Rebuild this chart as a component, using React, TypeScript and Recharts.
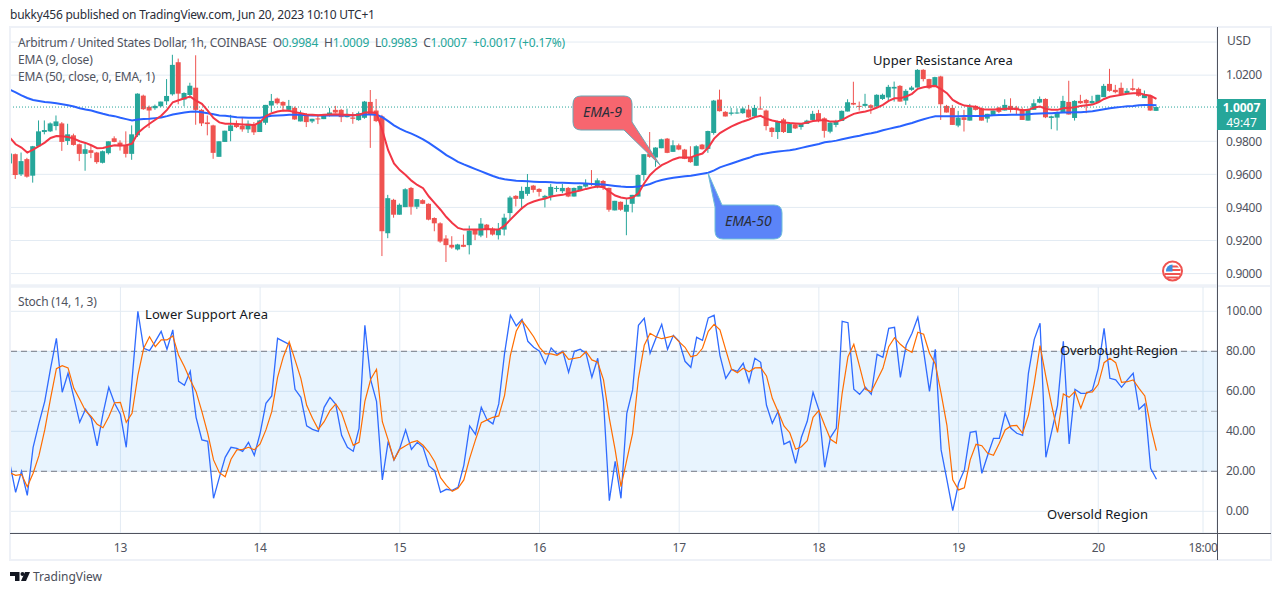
import { Bar, CartesianGrid, ComposedChart, Line, ReferenceArea, ReferenceLine, XAxis, YAxis } from "recharts";

// hourly bars, Jun 12 05:00 to Jun 20 10:00
const opens = [
  .9666, .9722, .9600, .9692, .9592, .9770, .9856, .9860, .9892, .9908,
  .9802, .9836, .9782, .9724, .9746, .9732, .9670, .9728, .9818, .9792,
  .9778, .9724, .9836, 1.0076, 1.0008, 1.0000, 1.0012, 1.0042, 1.0084, 1.0278,
  1.0052, 1.0080, 1.0124, .9990, .9914, .9896, .9706, .9796, .9862, .9906,
  .9894, .9872, .9900, .9856, .9912, 1.0016, 1.0058, 1.0038, .9990, 1.0002,
  .9920, .9964, .9920, .9938, .9934, .9956, .9990, .9990, .9946, .9944,
  .9928, .9942, 1.0038, .9986, .9950, .9244, .9446, .9356, .9402, .9518,
  .9404, .9444, .9422, .9336, .9304, .9212, .9174, .9146, .9174, .9172,
  .9264, .9230, .9296, .9272, .9232, .9266, .9366, .9470, .9452, .9482,
  .9532, .9512, .9458, .9470, .9514, .9498, .9518, .9466, .9500, .9526,
  .9544, .9526, .9560, .9518, .9382, .9434, .9374, .9422, .9466, .9596,
  .9726, .9702, .9758, .9816, .9736, .9776, .9750, .9702, .9652, .9780,
  .9754, .9850, 1.0052, .9978, .9966, .9972, .9970, .9992, .9950, .9998,
  .9986, .9882, .9856, .9932, .9850, .9902, .9886, .9905, .9929, .9970,
  .9939, .9858, .9899, .9923, .9980, 1.0032, 1.0014, 1.0014, 1.0018, 1.0010,
  1.0056, 1.0065, 1.0119, 1.0135, 1.0046, 1.0111, 1.0125, 1.0232, 1.0176, 1.0131,
  1.0192, 1.0014, 1.0002, .9895, .9945, .9925, 1.0014, 1.0000, .9937, .9953,
  1.0004, .9986, 1.0014, 1.0004, .9994, .9925, .9990, 1.0034, 1.0056, .9941,
  .9943, .9974, 1.0038, .9941, 1.0044, 1.0050, 1.0030, 1.0036, 1.0067, 1.0147,
  1.0111, 1.0123, 1.0091, 1.0121, 1.0117, 1.0061, 1.0075, .9984,
];
const highs = [
  .9730, .9726, .9732, .9700, .9772, .9926, .9926, .9914, .9956, .9916,
  .9906, .9846, .9786, .9786, .9776, .9736, .9744, .9800, .9830, .9806,
  .9860, .9896, 1.0090, 1.0082, 1.0016, 1.0022, 1.0040, 1.0176, 1.0323, 1.0300,
  1.0096, 1.0154, 1.0320, .9996, .9956, .9900, .9800, .9864, .9960, .9926,
  .9942, .9926, .9916, .9930, 1.0020, 1.0086, 1.0064, 1.0042, 1.0050, 1.0010,
  .9986, .9970, .9936, .9956, .9956, 1.0002, 1.0014, .9996, .9998, .9976,
  .9980, 1.0044, 1.0110, 1.0056, .9960, .9476, .9452, .9424, .9516, .9524,
  .9450, .9450, .9424, .9340, .9310, .9232, .9226, .9180, .9236, .9290,
  .9270, .9336, .9300, .9280, .9306, .9362, .9470, .9474, .9526, .9602,
  .9536, .9516, .9476, .9542, .9530, .9542, .9524, .9520, .9532, .9570,
  .9626, .9576, .9566, .9520, .9440, .9436, .9450, .9476, .9600, .9722,
  .9856, .9764, .9816, .9820, .9806, .9786, .9754, .9770, .9776, .9784,
  .9864, 1.0050, 1.0112, .9982, 1.0002, 1.0000, 1.0006, 1.0020, 1.0020, 1.0070,
  .9992, .9886, .9924, .9940, .9910, .9906, .9908, .9930, .9984, .9990,
  .9945, .9915, .9930, .9986, 1.0054, 1.0160, 1.0040, 1.0087, 1.0024, 1.0084,
  1.0088, 1.0141, 1.0161, 1.0140, 1.0115, 1.0135, 1.0236, 1.0236, 1.0178, 1.0190,
  1.0196, 1.0020, 1.0020, .9984, .9990, 1.0026, 1.0018, 1.0004, .9966, .9986,
  1.0008, 1.0054, 1.0060, 1.0014, 1.0004, .9998, 1.0054, 1.0071, 1.0060, .9955,
  .9980, 1.0075, 1.0166, 1.0048, 1.0081, 1.0056, 1.0075, 1.0081, 1.0147, 1.0238,
  1.0141, 1.0155, 1.0121, 1.0178, 1.0125, 1.0107, 1.0081, 1.0009,
];
const lows = [
  .9666, .9572, .9590, .9580, .9550, .9770, .9842, .9856, .9866, .9742,
  .9778, .9774, .9680, .9622, .9698, .9664, .9666, .9720, .9794, .9744,
  .9702, .9688, .9826, .9990, .9880, .9990, 1.0006, 1.0020, 1.0076, 1.0024,
  1.0012, 1.0060, .9900, .9892, .9836, .9694, .9706, .9796, .9800, .9880,
  .9858, .9850, .9838, .9856, .9900, .9976, 1.0022, .9980, .9980, .9930,
  .9920, .9886, .9910, .9904, .9934, .9950, .9970, .9916, .9944, .9906,
  .9924, .9936, .9760, .9916, .9106, .9214, .9338, .9356, .9402, .9356,
  .9390, .9420, .9322, .9256, .9186, .9070, .9150, .9140, .9160, .9116,
  .9202, .9220, .9216, .9230, .9206, .9230, .9326, .9406, .9386, .9470,
  .9490, .9466, .9400, .9442, .9494, .9486, .9462, .9466, .9500, .9520,
  .9530, .9516, .9506, .9374, .9382, .9380, .9232, .9370, .9466, .9562,
  .9700, .9646, .9758, .9728, .9736, .9746, .9692, .9670, .9652, .9750,
  .9730, .9840, .9980, .9950, .9956, .9966, .9966, .9942, .9940, .9994,
  .9866, .9826, .9814, .9850, .9850, .9874, .9870, .9905, .9925, .9915,
  .9822, .9848, .9885, .9923, .9980, 1.0018, .9986, 1.0010, .9966, 1.0008,
  1.0050, 1.0040, 1.0040, 1.0040, 1.0020, 1.0105, 1.0125, 1.0162, 1.0115, 1.0131,
  .9929, .9974, .9899, .9885, .9859, .9925, .9986, .9925, .9913, .9953,
  .9970, .9986, .9974, .9959, .9929, .9925, .9990, 1.0030, .9940, .9873,
  .9865, .9974, .9962, .9925, 1.0026, .9970, 1.0026, 1.0036, 1.0067, 1.0100,
  1.0090, 1.0080, 1.0085, 1.0105, 1.0070, 1.0061, .9984, .9983,
];
const closes = [
  .9726, .9596, .9680, .9586, .9770, .9860, .9868, .9908, .9920, .9796,
  .9842, .9778, .9724, .9752, .9730, .9674, .9740, .9800, .9796, .9770,
  .9724, .9842, 1.0088, .9994, .9986, 1.0014, 1.0040, 1.0074, 1.0262, 1.0088,
  1.0092, 1.0136, .9990, .9908, .9904, .9730, .9800, .9864, .9896, .9886,
  .9872, .9906, .9854, .9926, 1.0020, 1.0044, 1.0030, 1.0016, 1.0014, .9932,
  .9960, .9916, .9936, .9934, .9956, .9974, .9974, .9946, .9956, .9936,
  .9970, 1.0040, .9960, .9922, .9256, .9456, .9356, .9416, .9510, .9404,
  .9450, .9422, .9326, .9304, .9194, .9172, .9158, .9176, .9162, .9260,
  .9236, .9302, .9268, .9236, .9266, .9338, .9460, .9452, .9500, .9524,
  .9506, .9494, .9470, .9524, .9518, .9518, .9466, .9518, .9530, .9544,
  .9538, .9564, .9522, .9386, .9440, .9386, .9416, .9476, .9596, .9722,
  .9706, .9762, .9812, .9730, .9776, .9750, .9694, .9674, .9770, .9752,
  .9862, 1.0046, .9982, .9950, .9974, .9974, .9998, .9944, 1.0002, .9994,
  .9892, .9856, .9922, .9856, .9906, .9878, .9906, .9925, .9966, .9923,
  .9863, .9913, .9923, .9984, 1.0036, 1.0022, 1.0010, 1.0026, 1.0002, 1.0081,
  1.0081, 1.0129, 1.0129, 1.0040, 1.0105, 1.0125, 1.0232, 1.0176, 1.0121, 1.0188,
  1.0024, .9974, .9899, .9943, .9929, 1.0006, .9990, .9925, .9966, .9986,
  .9978, 1.0020, .9990, .9990, .9929, .9994, 1.0030, 1.0056, .9945, .9951,
  .9974, 1.0044, .9962, 1.0044, 1.0030, 1.0030, 1.0044, 1.0081, 1.0135, 1.0105,
  1.0097, 1.0085, 1.0105, 1.0111, 1.0075, 1.0081, .9986, 1.0007,
];
const ema9 = [
  .9822, .9782, .9762, .9732, .9750, .9770, .9792, .9820, .9832, .9830,
  .9826, .9816, .9800, .9790, .9776, .9758, .9760, .9768, .9776, .9774,
  .9776, .9786, .9850, .9880, .9906, .9930, .9954, .9990, 1.0036, 1.0048,
  1.0060, 1.0070, 1.0046, 1.0026, .9986, .9940, .9914, .9906, .9906, .9904,
  .9902, .9900, .9898, .9916, .9952, .9970, .9980, .9986, .9984, .9976,
  .9970, .9962, .9960, .9958, .9960, .9962, .9964, .9960, .9960, .9958,
  .9960, .9974, .9976, .9970, .9866, .9746, .9666, .9626, .9596, .9562,
  .9536, .9516, .9466, .9426, .9386, .9342, .9306, .9276, .9266, .9266,
  .9266, .9266, .9270, .9266, .9266, .9290, .9326, .9362, .9396, .9422,
  .9436, .9446, .9454, .9466, .9472, .9476, .9486, .9494, .9502, .9512,
  .9520, .9526, .9522, .9496, .9472, .9460, .9454, .9460, .9486, .9546,
  .9596, .9630, .9656, .9672, .9690, .9702, .9702, .9702, .9716, .9726,
  .9762, .9816, .9850, .9870, .9890, .9906, .9920, .9932, .9946, .9954,
  .9936, .9926, .9918, .9914, .9910, .9908, .9906, .9914, .9922, .9926,
  .9929, .9919, .9919, .9929, .9949, .9966, .9974, .9980, .9990, 1.0004,
  1.0020, 1.0044, 1.0060, 1.0060, 1.0071, 1.0087, 1.0117, 1.0127, 1.0133, 1.0135,
  1.0115, 1.0091, 1.0050, 1.0030, 1.0016, 1.0012, 1.0008, .9994, .9992, .9992,
  .9994, .9996, .9998, .9994, .9988, .9990, 1.0004, 1.0010, .9996, .9990,
  .9990, 1.0000, 1.0002, 1.0006, 1.0014, 1.0018, 1.0022, 1.0036, 1.0056, 1.0069,
  1.0075, 1.0081, 1.0087, 1.0091, 1.0091, 1.0081, 1.0075, 1.0056,
];
const ema50 = [
  1.0112, 1.0096, 1.0078, 1.0062, 1.0050, 1.0044, 1.0038, 1.0034, 1.0030, 1.0024,
  1.0018, 1.0010, 1.0000, .9992, .9986, .9976, .9966, .9958, .9952, .9942,
  .9934, .9926, .9932, .9934, .9936, .9940, .9944, .9952, .9962, .9968,
  .9974, .9978, .9980, .9976, .9970, .9964, .9956, .9954, .9950, .9946,
  .9944, .9942, .9942, .9942, .9948, .9954, .9956, .9958, .9960, .9960,
  .9960, .9958, .9956, .9956, .9956, .9956, .9956, .9956, .9956, .9958,
  .9960, .9962, .9962, .9960, .9946, .9922, .9896, .9876, .9860, .9846,
  .9830, .9812, .9790, .9766, .9742, .9716, .9696, .9676, .9660, .9646,
  .9632, .9618, .9604, .9590, .9578, .9570, .9566, .9562, .9560, .9558,
  .9556, .9554, .9554, .9552, .9550, .9550, .9548, .9546, .9546, .9544,
  .9542, .9540, .9538, .9534, .9530, .9526, .9524, .9524, .9526, .9532,
  .9542, .9556, .9566, .9574, .9580, .9584, .9588, .9592, .9598, .9604,
  .9610, .9624, .9642, .9654, .9666, .9678, .9690, .9700, .9714, .9722,
  .9728, .9734, .9738, .9742, .9746, .9752, .9760, .9768, .9776, .9784,
  .9794, .9798, .9804, .9812, .9820, .9828, .9834, .9842, .9848, .9856,
  .9867, .9875, .9883, .9891, .9901, .9911, .9923, .9933, .9943, .9951,
  .9951, .9951, .9951, .9951, .9953, .9953, .9953, .9953, .9955, .9957,
  .9959, .9959, .9961, .9961, .9961, .9963, .9966, .9968, .9970, .9970,
  .9972, .9974, .9974, .9976, .9976, .9978, .9982, .9988, .9994, 1.0000,
  1.0004, 1.0008, 1.0012, 1.0014, 1.0018, 1.0020, 1.0020, 1.0018,
];
const stochK = [
  24, 9.5, 20, 8, 32, 44, 55, 71.5, 86.5, 59.5,
  69, 57, 44.5, 51, 46.5, 32.7, 48.7, 62, 54, 48.5,
  32, 65.7, 100, 81.5, 80.3, 85, 90, 81, 90.7, 65,
  63, 70, 47, 35.7, 35, 6.5, 17, 27, 32, 31.5,
  30, 34.5, 28, 39, 54, 57.7, 86.5, 85, 83.5, 61,
  57, 42.7, 41, 40, 52, 57, 53.5, 38, 32, 30,
  41.5, 93, 65.7, 55, 15.7, 35, 25.7, 31.5, 40.7, 31,
  34.5, 32, 22.7, 20.3, 9.5, 11, 10.5, 12, 23, 42.7,
  38.5, 52, 45.7, 43.7, 53.7, 79, 98, 92.7, 96, 85,
  82, 80, 73.7, 81.7, 78.5, 80, 69.5, 80, 81, 79,
  67, 76.5, 55, 5.3, 25, 6.5, 49, 60.7, 93, 96.5,
  79, 86.5, 93.5, 81, 88, 85, 75, 72, 87, 85.5,
  96.7, 98, 78, 66.5, 71, 70, 74, 64.5, 76.5, 74.5,
  53, 44, 50, 33.5, 35, 24, 37, 45, 59.5, 50.7,
  22, 37, 41.5, 95, 94.3, 61, 58.5, 62, 58.5, 78.5,
  77, 91.5, 92, 67, 83, 89, 97, 80, 60, 81,
  30.7, 15.7, 0.3, 14, 20.7, 39.5, 40, 19, 28, 36.5,
  36.5, 49, 41.5, 39, 38, 69, 86, 94, 27, 40,
  53, 85, 33.7, 61, 59, 59, 60.7, 71.5, 91.5, 66.5,
  65.7, 62, 65.7, 69, 51, 53.7, 21.5, 16,
];
const stochD = [
  19.3, 18, 18.5, 12.3, 19, 27.8, 40.7, 56.5, 71.3, 72.8,
  71.7, 61.5, 56, 50.3, 47.3, 43.5, 41.8, 47.3, 54.3, 54.5,
  44.5, 49, 68, 81.5, 87.3, 82.3, 85.7, 85.7, 87.7, 78,
  72.3, 65.7, 59.8, 49.8, 39, 25.7, 19.3, 17.3, 26, 30.7,
  31, 32, 30.7, 33.7, 40.7, 49.8, 67, 77.3, 84.8, 75.7,
  66.5, 53, 46.5, 41, 44.8, 50.3, 53.7, 49.3, 40.7, 33,
  34.5, 55, 66, 71, 44.8, 35.7, 25.7, 31, 32.8, 34.5,
  35.3, 33, 29.5, 24.8, 16.8, 13, 10, 11.5, 15.7, 26.5,
  35.7, 44.3, 45.7, 47, 47.7, 58, 78, 90, 95.3, 91.5,
  87.3, 82, 78.7, 78.7, 78, 79.7, 76, 76.5, 77, 79.8,
  75.7, 74.5, 65.7, 46.5, 30.7, 12.3, 25.7, 39, 66.5, 83,
  89, 87.3, 86.3, 87, 87.7, 84.7, 82, 77.3, 78, 81.5,
  90, 93.5, 90.7, 80.7, 71, 69.3, 71.5, 69.8, 71.7, 71.8,
  67.7, 56.5, 49.8, 42.7, 39.3, 31, 32.3, 35.3, 47, 50.5,
  43, 36, 34, 59, 77.3, 83.5, 72.3, 61, 59.8, 65.7,
  71.5, 82.3, 86.8, 83.5, 81, 79.5, 89.5, 88.5, 79, 73.7,
  59, 43, 15.7, 10.7, 11.8, 25.7, 33.5, 32.8, 29, 28,
  34, 40.7, 42.7, 43, 39, 48, 64, 82.8, 67.3, 53,
  39.5, 58.7, 57, 60, 51.5, 59.5, 59.7, 63.5, 74.3, 76.5,
  74.3, 64.5, 64.8, 65.7, 61.5, 57.7, 42.3, 30.3,
];

const timeTicks = [19, 43, 67, 91, 115, 139, 163, 187, 205];
const timeLabels = ["13", "14", "15", "16", "17", "18", "19", "20", "18:00"];
// 1.04 only has a grid line, its label spot is taken by "USD"
const priceTicks = [0.9, 0.92, 0.94, 0.96, 0.98, 1.02, 1.04];
const stochTicks = [0, 20, 40, 60, 80, 100];
const lastPrice = 1.0007;

const UP = "#26a69a";
const DOWN = "#ef5350";
const GRID = "#e3ebf3";
const FRAME = "#eef1f7";
const AXIS_TEXT = "#50535e";
const FONT = "'Noto Sans', sans-serif";
const X_DOMAIN = [0.03, 207.4];

const rows = opens.map((open, i) => ({
  i,
  open,
  high: highs[i],
  low: lows[i],
  close: closes[i],
  ema9: ema9[i],
  ema50: ema50[i],
  k: stochK[i],
  d: stochD[i],
}));

// Bar hands us the high-low range in pixels, open and close are placed inside it
const Candle = (props: any) => {
  const { x, y, width, height, payload } = props;
  const color = payload.close >= payload.open ? UP : DOWN;
  const perUnit = height / (payload.high - payload.low);
  const top = y + (payload.high - Math.max(payload.open, payload.close)) * perUnit;
  const bottom = y + (payload.high - Math.min(payload.open, payload.close)) * perUnit;
  const mid = x + width / 2;
  return (
    <g>
      <line x1={mid} x2={mid} y1={y} y2={y + height} stroke={color} strokeWidth={1} />
      <rect x={x} y={top} width={width} height={Math.max(bottom - top, 1)} fill={color} />
    </g>
  );
};

const tickStyle = { fill: AXIS_TEXT, fontSize: 12, fontFamily: FONT, letterSpacing: -0.3 };

const PriceChart = () => (
  <ComposedChart width={1281} height={286} data={rows} margin={{ top: 27, right: 0, bottom: 0, left: 10 }}>
    <CartesianGrid stroke={GRID} />
    <XAxis dataKey="i" type="number" domain={X_DOMAIN} ticks={timeTicks} allowDataOverflow height={1} tick={false} tickLine={false} axisLine={false} />
    <YAxis
      orientation="right"
      width={64}
      domain={[0.8931, 1.0491]}
      ticks={priceTicks}
      allowDataOverflow
      tickFormatter={(v: number) => (v > 1.03 ? "" : v.toFixed(4))}
      tick={tickStyle}
      tickLine={false}
      axisLine={false}
      tickMargin={3}
    />
    <ReferenceLine y={lastPrice} stroke={UP} strokeDasharray="1 2" />
    <Bar dataKey={(r: any) => [r.low, r.high]} barSize={5} shape={<Candle />} isAnimationActive={false} />
    <Line dataKey="ema50" stroke="#2962ff" strokeWidth={2} dot={false} type="linear" isAnimationActive={false} />
    <Line dataKey="ema9" stroke="#f23645" strokeWidth={2} dot={false} type="linear" isAnimationActive={false} />
  </ComposedChart>
);

const StochChart = () => (
  <ComposedChart width={1281} height={273} data={rows} margin={{ top: 0, right: 0, bottom: 0, left: 10 }}>
    <CartesianGrid stroke={GRID} />
    <XAxis
      dataKey="i"
      type="number"
      domain={X_DOMAIN}
      ticks={timeTicks}
      allowDataOverflow
      height={27}
      tickFormatter={(v: number) => timeLabels[timeTicks.indexOf(v)]}
      tick={tickStyle}
      tickLine={false}
      axisLine={false}
      tickMargin={4}
      interval={0}
    />
    <YAxis
      orientation="right"
      width={64}
      domain={[-10.85, 112.15]}
      ticks={stochTicks}
      allowDataOverflow
      tickFormatter={(v: number) => v.toFixed(2)}
      tick={{ ...tickStyle, dy: -1 }}
      tickLine={false}
      axisLine={false}
      tickMargin={3}
    />
    <ReferenceArea y1={20} y2={80} fill="#2196f3" fillOpacity={0.1} stroke="none" />
    <ReferenceLine y={80} stroke="#787b86" strokeDasharray="6 4" />
    <ReferenceLine y={50} stroke="#787b86" strokeOpacity={0.55} strokeDasharray="6 4" />
    <ReferenceLine y={20} stroke="#787b86" strokeDasharray="6 4" />
    <Line dataKey="k" stroke="#2f6bff" strokeWidth={1.3} dot={false} type="linear" isAnimationActive={false} />
    <Line dataKey="d" stroke="#ff6d00" strokeWidth={1.2} dot={false} type="linear" isAnimationActive={false} />
  </ComposedChart>
);

const Label = ({ x, y, color = "#131722", size = 13, spacing = 0, children }: any) => (
  <div style={{ position: "absolute", left: x, top: y, color, fontSize: size, fontFamily: FONT, lineHeight: "16px", whiteSpace: "pre", letterSpacing: spacing }}>
    {children}
  </div>
);

const Rule = ({ x, y, w, h, color }: any) => (
  <div style={{ position: "absolute", left: x, top: y, width: w, height: h, background: color }} />
);

const Callouts = () => (
  <svg width={1281} height={595} style={{ position: "absolute", left: 0, top: 0, pointerEvents: "none" }}>
    <path
      d="M581 96 H624 Q632 96 632 104 V122 L660 165 L624 130 H581 Q573 130 573 122 V104 Q573 96 581 96 Z"
      fill="#f7666f"
      stroke="#6ba7b5"
      strokeWidth={1}
    />
    <text x={583} y={117} fontSize={14} fontStyle="italic" fontFamily={FONT} fill="#2a2e39">EMA-9</text>
    <path
      d="M723 205 H774 Q782 205 782 213 V231 Q782 239 774 239 H723 Q715 239 715 231 V207 L708 173 L722 205 Z"
      fill="#5b84f8"
      stroke="#6fc0d8"
      strokeWidth={1}
    />
    <text x={725} y={226} fontSize={14} fontStyle="italic" fontFamily={FONT} fill="#2a2e39">EMA-50</text>
    <circle cx={1172.5} cy={271} r={9.5} fill="#fff" stroke="#ef5350" strokeWidth={2} />
    <path d="M1172 265.5 h5 l2 2 h-7 Z M1172 269 h8.5 v2 h-8.5 Z M1164.5 273 h16 v2 h-16 Z M1166 276.5 h13 l-2 2 h-9 Z" fill="#ef5350" />
    <path d="M1172.5 264.5 A6.5 6.5 0 0 0 1166 271.5 H1172.5 Z" fill="#3d8ee0" />
    <path d="M10 572 h9.5 v9 h-4.5 v-5 h-5 Z" fill="#131722" />
    <circle cx={22.5} cy={574} r={2} fill="#131722" />
    <path d="M25 572 h5 l-4 9 h-5 Z" fill="#131722" />
  </svg>
);

const Frame = () => (
  <>
    <Rule x={10} y={26} w={1262} h={2} color={FRAME} />
    <Rule x={9} y={26} w={2} h={535} color={FRAME} />
    <Rule x={10} y={285} w={1262} h={2} color={FRAME} />
    <Rule x={1270} y={26} w={2} h={535} color={FRAME} />
    <Rule x={10} y={559} w={1262} h={2} color={FRAME} />
    <Rule x={1217} y={27} w={1} h={533} color="#50535e" />
    <Rule x={10} y={533} w={1261} h={1} color="#50535e" />
  </>
);

const App = () => (
  <div style={{ position: "absolute", left: 0, top: 0, width: 1281, height: 595, background: "#fff", overflow: "hidden" }}>
    <div style={{ position: "absolute", left: 0, top: 0 }}>
      <PriceChart />
    </div>
    <div style={{ position: "absolute", left: 0, top: 287 }}>
      <StochChart />
    </div>
    <Frame />
    <Label x={10} y={7} size={12} spacing={-0.22} color="#2a2e39">bukky456 published on TradingView.com, Jun 20, 2023 10:10 UTC+1</Label>
    <Label x={18} y={35} size={12} spacing={-0.2} color={AXIS_TEXT}>
      {"Arbitrum / United States Dollar, 1h, COINBASE  O"}
      <span style={{ color: UP }}>0.9984</span>{"  H"}
      <span style={{ color: UP }}>1.0009</span>{"  L"}
      <span style={{ color: UP }}>0.9983</span>{"  C"}
      <span style={{ color: UP }}>1.0007  +0.0017 (+0.17%)</span>
    </Label>
    <Label x={18} y={52} size={12} spacing={-0.2} color={AXIS_TEXT}>EMA (9, close)</Label>
    <Label x={18} y={69} size={12} spacing={-0.2} color={AXIS_TEXT}>EMA (50, close, 0, EMA, 1)</Label>
    <Label x={18} y={294} size={12} spacing={-0.2} color={AXIS_TEXT}>Stoch (14, 1, 3)</Label>
    <Label x={1227} y={33} size={12} color={AXIS_TEXT}>USD</Label>
    <div style={{ position: "absolute", left: 1217, top: 99, width: 49, height: 30, background: UP, color: "#fff", fontFamily: FONT, fontSize: 12, lineHeight: "15px", textAlign: "center", paddingTop: 1 }}>
      <div style={{ fontWeight: 700 }}>1.0007</div>
      <div>49:47</div>
    </div>
    <Label x={873} y={52} spacing={0.1}>Upper Resistance Area</Label>
    <Label x={145} y={306} spacing={0.1}>Lower Support Area</Label>
    <Label x={1060} y={342} spacing={-0.15}>Overbought Region</Label>
    <Label x={1047} y={506}>Oversold Region</Label>
    <Label x={33} y={569} size={12} color="#4a4e59">TradingView</Label>
    <Callouts />
  </div>
);

export default App;
